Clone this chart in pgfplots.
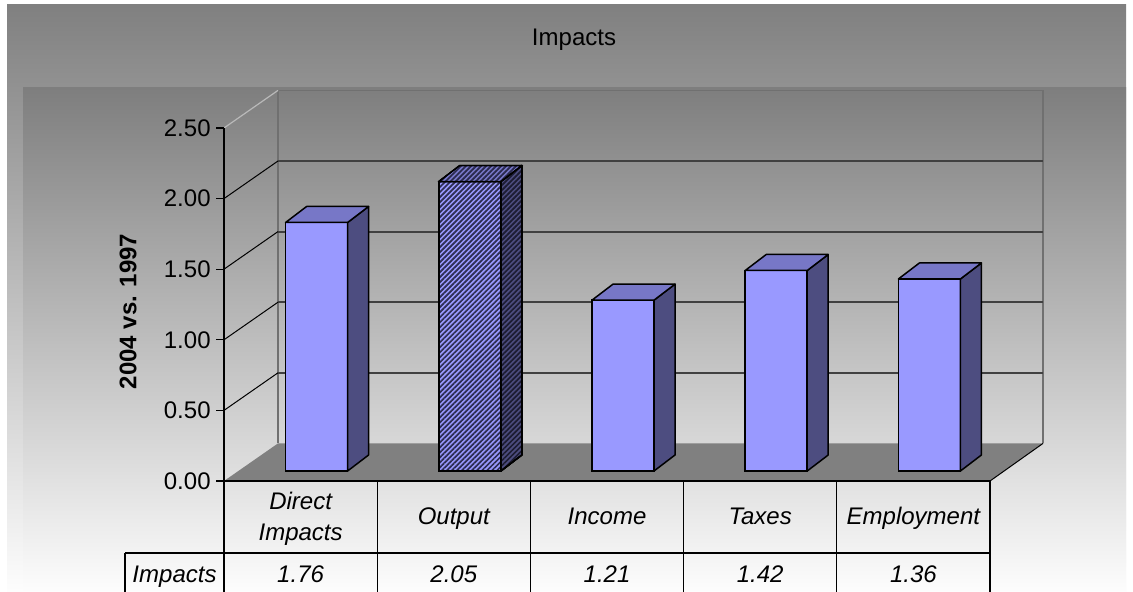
\documentclass[border=0pt]{standalone}
\usepackage{fontspec}
\setmainfont{Liberation Sans}
\usepackage{pgfplots}
\pgfplotsset{compat=1.18}
\usepackage{pgfplotstable}
\usetikzlibrary{patterns.meta}

\definecolor{barfront}{RGB}{153,153,255}
\definecolor{barside}{RGB}{77,77,128}
\definecolor{bartop}{RGB}{119,119,199}
\definecolor{hatchfront}{RGB}{45,45,82}
\definecolor{hatchside}{RGB}{28,28,50}
\definecolor{hatchtop}{RGB}{40,40,75}
\definecolor{bgtop}{RGB}{128,128,128}
\definecolor{plottop}{RGB}{126,126,126}
\definecolor{floorc}{RGB}{128,128,128}
\definecolor{gridback}{RGB}{64,64,64}
\definecolor{walledge}{RGB}{112,112,112}

\pgfplotstableread{
idx name val
0 Direct 1.76
1 Output 2.05
2 Income 1.21
3 Taxes 1.42
4 Employment 1.36
}\datatable

\tikzset{hatchlines/.style={pattern={Lines[angle=45,distance=1.77pt,line width=0.85pt]}}}

% side face of a bar (data point = front-face top centre at the column centre)
\pgfdeclareplotmark{bside}{%
  \pgfmathsetlengthmacro\h{\barval*70.6pt}%
  \path[fill=barside,draw=black,line width=0.75pt,line join=round]
    (23.5pt,5pt) -- (34pt,13pt) -- (34pt,13pt-\h) -- (23.5pt,5pt-\h) -- cycle;}
\pgfdeclareplotmark{btop}{%
  \path[fill=bartop,draw=black,line width=0.75pt,line join=round]
    (23.5pt,5pt) -- (-7.5pt,5pt) -- (3pt,13pt) -- (34pt,13pt) -- cycle;}
\pgfdeclareplotmark{bsideH}{%
  \pgfmathsetlengthmacro\h{\barval*70.6pt}%
  \path[fill=barside,postaction={hatchlines,pattern color=hatchside},draw=black,line width=0.75pt,line join=round]
    (23.5pt,5pt) -- (34pt,13pt) -- (34pt,13pt-\h) -- (23.5pt,5pt-\h) -- cycle;
  \path[draw=black,line width=0.75pt,line join=round]
    (23.5pt,5pt) -- (34pt,13pt) -- (34pt,13pt-\h) -- (23.5pt,5pt-\h) -- cycle;}
\pgfdeclareplotmark{btopH}{%
  \path[fill=bartop,postaction={hatchlines,pattern color=hatchtop}]
    (23.5pt,5pt) -- (-7.5pt,5pt) -- (3pt,13pt) -- (34pt,13pt) -- cycle;
  \path[draw=black,line width=0.75pt,line join=round]
    (23.5pt,5pt) -- (-7.5pt,5pt) -- (3pt,13pt) -- (34pt,13pt) -- cycle;}

\begin{document}
\begin{tikzpicture}[font=\fontsize{12}{14.4}\selectfont]
\useasboundingbox (0,0) rectangle (566.5pt,296pt);
% ---------- background, walls, floor (pixel coordinates) ----------
\begin{scope}[x=0.5pt,y=-0.5pt,shift={(0pt,296pt)}]
  \fill[white] (0,0) rectangle (1133,592);
  \shade[top color=bgtop,bottom color=white] (7,5) rectangle (1126,600);
  \shade[top color=plottop,bottom color=white] (23,88) rectangle (1126,600);
  % floor
  \fill[floorc] (224,481) -- (278,443.4) -- (1043,443.4) -- (990,481) -- cycle;
  \draw[black,line width=0.5pt] (990,481) -- (1043,443.4);
  % back wall edges
  \draw[walledge,line width=0.9pt] (278,90.4) -- (278,443.4);
  \draw[walledge,line width=0.7pt] (278,90.4) -- (1043,90.4) -- (1043,443.4);
  \draw[gray!55,line width=0.6pt] (224,128) -- (278,90.4);
  % grid lines
  \foreach \k in {1,2,3,4}{
    \pgfmathsetmacro\fy{481-70.6*\k}
    \pgfmathsetmacro\by{443.4-70.6*\k}
    \draw[gridback,line width=1pt] (278,\by) -- (1043,\by);
    \draw[black,line width=0.5pt] (224,\fy) -- (278,\by);
  }
\end{scope}

% ---------- bars ----------
\begin{axis}[at={(0pt,0pt)},anchor=south west,
  x=76.6pt,y=70.6pt,
  xmin=-1.96214,xmax=5.43342,ymin=-0.786119,ymax=3.406516,
  hide axis,clip=false]
\addplot[ybar,bar width=31pt,bar shift=8pt,yshift=5pt,
  fill=barfront,draw=black,line width=0.75pt]
  table[x=idx,y=val]{\datatable};
\addplot[ybar,bar width=31pt,bar shift=8pt,yshift=5pt,
  draw=black,line width=0.75pt,hatchlines,pattern color=hatchfront,
  restrict x to domain=0.5:1.5]
  table[x=idx,y=val]{\datatable};
\addplot[only marks,mark=bside,visualization depends on={rawy \as \barval}]
  table[x=idx,y=val]{\datatable};
\addplot[only marks,mark=btop,visualization depends on={rawy \as \barval}]
  table[x=idx,y=val]{\datatable};
\addplot[only marks,mark=bsideH,visualization depends on={rawy \as \barval},
  restrict x to domain=0.5:1.5]
  table[x=idx,y=val]{\datatable};
\addplot[only marks,mark=btopH,visualization depends on={rawy \as \barval},
  restrict x to domain=0.5:1.5]
  table[x=idx,y=val]{\datatable};
\end{axis}

% ---------- axis, table and texts (pixel coordinates) ----------
\begin{scope}[x=0.5pt,y=-0.5pt,shift={(0pt,296pt)}]
  \draw[black,line width=0.6pt] (224,128) -- (224,592);
  \foreach \k/\lab in {0/0.00,1/0.50,2/1.00,3/1.50,4/2.00,5/2.50}{
    \pgfmathsetmacro\fy{481-70.6*\k}
    \draw[black,line width=0.6pt] (216,\fy) -- (224,\fy);
    \node[anchor=east,inner sep=0pt] at (211,\fy) {\lab};
  }
  % data table lines
  \draw[black,line width=0.6pt] (224,481) -- (990,481);
  \draw[black,line width=0.6pt] (125,553) -- (990,553);
  \draw[black,line width=0.6pt] (125,553) -- (125,592);
  \foreach \xx in {377.2,530.4,683.6,836.8,990}{
    \draw[black,line width=0.6pt] (\xx,481) -- (\xx,592);
  }
  % title and axis label
  \node[anchor=base] at (574,46) {Impacts};
  \node[rotate=90,font=\fontsize{12}{14.4}\selectfont\bfseries] at (128,311.5) {2004 vs. 1997};
  % header row
  \node[anchor=base,inner sep=0pt] at (300.6,510) {\itshape Direct};
  \node[anchor=base,inner sep=0pt] at (300.6,541) {\itshape Impacts};
  \node[anchor=base,inner sep=0pt] at (453.8,525) {\itshape Output};
  \node[anchor=base,inner sep=0pt] at (607,525) {\itshape Income};
  \node[anchor=base,inner sep=0pt] at (760.2,525) {\itshape Taxes};
  \node[anchor=base,inner sep=0pt] at (913.4,525) {\itshape Employment};
  % value row
  \node[anchor=base,inner sep=0pt] at (174.5,583) {\itshape Impacts};
  \node[anchor=base,inner sep=0pt] at (300.6,583) {\itshape 1.76};
  \node[anchor=base,inner sep=0pt] at (453.8,583) {\itshape 2.05};
  \node[anchor=base,inner sep=0pt] at (607,583) {\itshape 1.21};
  \node[anchor=base,inner sep=0pt] at (760.2,583) {\itshape 1.42};
  \node[anchor=base,inner sep=0pt] at (913.4,583) {\itshape 1.36};
\end{scope}
\end{tikzpicture}
\end{document}
